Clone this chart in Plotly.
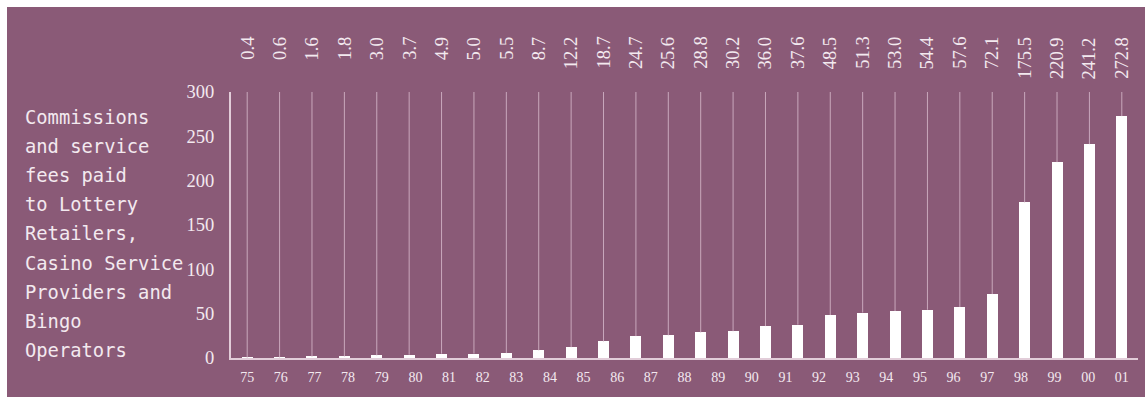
import plotly.graph_objects as go

# ---- data ----
values = [0.4, 0.6, 1.6, 1.8, 3.0, 3.7, 4.9, 5.0, 5.5, 8.7, 12.2, 18.7, 24.7, 25.6,
          28.8, 30.2, 36.0, 37.6, 48.5, 51.3, 53.0, 54.4, 57.6, 72.1, 175.5, 220.9,
          241.2, 272.8]
value_labels = [f"{v:.1f}" for v in values]
year_labels = ["75", "76", "77", "78", "79", "80", "81", "82", "83", "84", "85", "86",
               "87", "88", "89", "90", "91", "92", "93", "94", "95", "96", "97", "98",
               "99", "00", "01"]
y_ticks = [0, 50, 100, 150, 200, 250, 300]
title_lines = ["Commissions", "and service", "fees paid", "to Lottery", "Retailers,",
               "Casino Service", "Providers and", "Bingo", "Operators"]

# ---- style ----
W, H = 1145, 397
ML, MR, MT, MB = 231, 7, 92, 39
PURPLE = "#8A5A77"
LIGHT = "#E2CDD9"
TEXT = "#F3E9EF"
DROP = "#C9A8BC"
ymax = y_ticks[-1]
pw = W - ML - MR
ph = H - MT - MB

n = len(values)
xs = list(range(n))

fig = go.Figure()

# drop lines from bar top up to the axis maximum
lx, ly = [], []
for x, v in zip(xs, values):
    lx += [x, x, None]
    ly += [v, ymax, None]
fig.add_trace(go.Scatter(x=lx, y=ly, mode="lines",
                         line=dict(color=DROP, width=1), hoverinfo="skip",
                         showlegend=False))

fig.add_trace(go.Bar(x=xs, y=values, width=0.34, marker=dict(color="white", line=dict(width=0)),
                     showlegend=False))

# value labels on top, rotated
for x, t in zip(xs, value_labels):
    fig.add_annotation(x=x, xref="x", y=1, yref="paper", yanchor="top", yshift=57,
                       xanchor="center", text=t, textangle=-90, showarrow=False,
                       font=dict(family="Liberation Serif", size=18.5, color=TEXT))

# left title, one line per annotation
for i, line in enumerate(title_lines):
    ypix = 117 + i * 29.2
    fig.add_annotation(x=(23 - ML) / pw, xref="paper", xanchor="left",
                       y=(H - MB - ypix) / ph, yref="paper", yanchor="middle",
                       text=line, showarrow=False,
                       font=dict(family="DejaVu Sans Mono", size=18.8, color=TEXT))

# purple background panel (page has a white strip on top/left)
fig.add_shape(type="rect", xref="paper", yref="paper",
              x0=(7 - ML) / pw, x1=(W - ML) / pw,
              y0=-MB / ph, y1=1 + (MT - 7) / ph,
              fillcolor=PURPLE, line=dict(width=0), layer="below")

nl = len(year_labels)
tickvals = [i * (n - 1) / (nl - 1) for i in range(nl)]

fig.update_layout(
    width=W, height=H,
    margin=dict(l=ML, r=MR, t=MT, b=MB),
    paper_bgcolor="white", plot_bgcolor=PURPLE,
    bargap=0,
    xaxis=dict(range=[-0.5, n - 0.5], tickvals=tickvals, ticktext=year_labels,
               showgrid=False, zeroline=False, showline=True, linecolor=LIGHT,
               linewidth=2, ticks="", ticklabelstandoff=5,
               tickfont=dict(family="Liberation Serif", size=14, color=TEXT)),
    yaxis=dict(range=[0, ymax], tickvals=y_ticks, showgrid=False, zeroline=False,
               showline=True, linecolor=LIGHT, linewidth=2, ticks="",
               ticklabelstandoff=11,
               tickfont=dict(family="Liberation Serif", size=18.5, color=TEXT)),
)

fig.write_html("out.html")
